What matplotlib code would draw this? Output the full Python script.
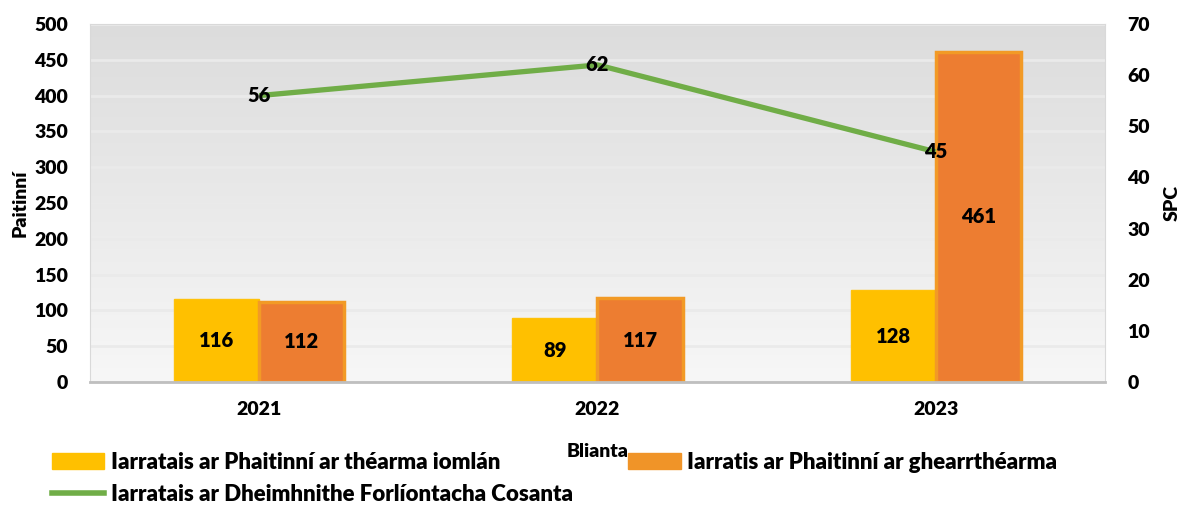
import matplotlib
matplotlib.use("Agg")
import matplotlib.pyplot as plt
import numpy as np
from matplotlib.patches import Patch
from matplotlib.lines import Line2D
from matplotlib.colors import LinearSegmentedColormap

years = ["2021", "2022", "2023"]
full_term = [116, 89, 128]
short_term = [112, 117, 461]
spc = [56, 62, 45]

label_full = "Iarratais ar Phaitinní ar théarma iomlán"
label_short = "Iarratis ar Phaitinní ar ghearrthéarma"
label_spc = "Iarratais ar Dheimhnithe Forlíontacha Cosanta"

YELLOW = "#FFC000"
ORANGE = "#ED7D31"
GREEN = "#70AD47"
WEIGHT = 'heavy'

plt.rcParams['font.family'] = ['Lato', 'DejaVu Sans']
plt.rcParams['font.weight'] = WEIGHT

fig = plt.figure(figsize=(11.85, 5.07), dpi=100)
ax = fig.add_axes([90/1185, 1-382/507, (1105-90)/1185, (382-24)/507])

x = np.arange(len(years))
w = 0.252

grad = np.linspace(0, 1, 256).reshape(-1, 1)
cmap = LinearSegmentedColormap.from_list("bg", ["#F7F7F7", "#DCDCDC"])
ax.imshow(grad, aspect='auto', cmap=cmap, origin='lower',
          extent=[0, 1, 0, 1], transform=ax.transAxes, zorder=0)

ax.set_xlim(-0.5, 2.5)
ax.set_ylim(0, 500)
ax.set_yticks(np.arange(0, 501, 50))
ax.yaxis.grid(True, color="#EAEAEA", linewidth=2, zorder=1)
ax.set_axisbelow(True)

b1 = ax.bar(x - w/2, full_term, w, color=YELLOW, edgecolor="#FFC20A", linewidth=1, zorder=2)
b2 = ax.bar(x + w/2, short_term, w, color=ORANGE, edgecolor="#F29A26", linewidth=2.5, zorder=2)

for rect, v in zip(list(b1) + list(b2), full_term + short_term):
    ax.text(rect.get_x() + rect.get_width()/2, rect.get_height()/2, str(v),
            ha='center', va='center', fontsize=14.5, fontweight=WEIGHT, color='black', zorder=5)

for s in ['top', 'left', 'right']:
    ax.spines[s].set_color("#D9D9D9")
    ax.spines[s].set_linewidth(0.8)
ax.spines['bottom'].set_color("#BFBFBF")
ax.spines['bottom'].set_linewidth(2)

ax.set_xticks(x)
ax.set_xticklabels(years, fontsize=14, fontweight=WEIGHT)
ax.tick_params(axis='x', length=0, pad=14)
ax.tick_params(axis='y', length=0, pad=16, labelsize=14)
for t in ax.get_yticklabels():
    t.set_fontweight(WEIGHT)

ax.set_ylabel("Paitinní", fontsize=14, fontweight=WEIGHT, labelpad=4)
ax.set_xlabel("Blianta", fontsize=14, fontweight=WEIGHT, labelpad=18)

ax2 = ax.twinx()
ax2.set_ylim(0, 70)
ax2.set_yticks(np.arange(0, 71, 10))
ax2.plot(x, spc, color=GREEN, linewidth=3.8, solid_capstyle='butt', zorder=3)
for xi, v in zip(x, spc):
    ax2.text(xi, v, str(v), ha='center', va='center', fontsize=14.5, fontweight=WEIGHT, zorder=6)
ax2.tick_params(axis='y', length=0, pad=16, labelsize=14)
for t in ax2.get_yticklabels():
    t.set_fontweight(WEIGHT)
for s in ax2.spines.values():
    s.set_visible(False)
ax2.set_ylabel("SPC", fontsize=14, fontweight=WEIGHT, labelpad=10)

handles = [Patch(facecolor=YELLOW, edgecolor=YELLOW),
           Line2D([0], [0], color=GREEN, linewidth=4),
           Patch(facecolor="#F09428", edgecolor="#F09428")]
labels = [label_full, label_spc, label_short]
leg = fig.legend(handles, labels, ncol=2, loc='upper left',
                 bbox_to_anchor=(52/1185, 1-452/507), frameon=False,
                 fontsize=16, handlelength=2.35, handleheight=0.7,
                 handletextpad=0.3, columnspacing=2.5, labelspacing=0.5,
                 borderaxespad=0, borderpad=0)
for t in leg.get_texts():
    t.set_fontweight(WEIGHT)

fig.savefig("out.png", dpi=100)
